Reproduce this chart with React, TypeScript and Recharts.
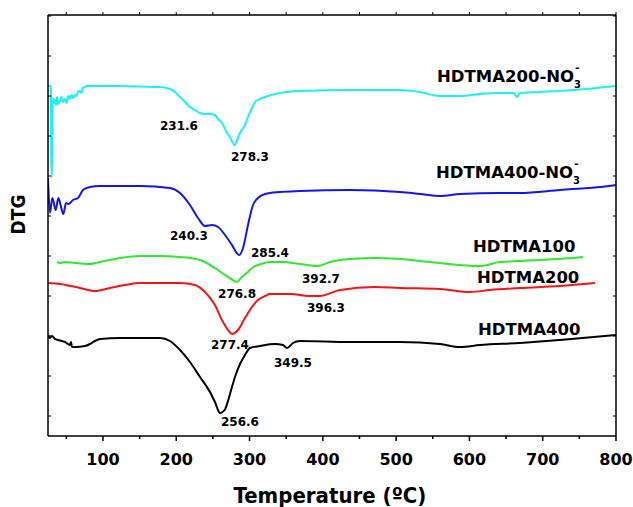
import React from "react";
import { LineChart, Line, XAxis, YAxis, ReferenceDot } from "recharts";

// Temperature (°C), DTG (arbitrary, offset units)
const HDTMA200_NO3: [number, number][] = [
  [25, 35.0], [27.7, 35.0], [29, 34.8], [29.5, 25.9], [30.5, 25.9], [31.5, 33.8],
  [33.2, 33.3], [34.6, 33.6], [36, 33.1], [37.3, 33.9], [39, 33.2], [41.4, 33.5],
  [43, 33.9], [45.5, 33.4], [48.2, 33.7], [50, 33.3], [52.3, 34.0], [55, 33.7],
  [57, 34.1], [59.1, 33.8], [61.8, 34.1], [64, 34.0], [65.9, 34.4], [68.7, 34.5],
  [70.5, 34.3], [72.8, 34.8], [75.5, 34.9], [78.2, 35.0], [82.3, 35.0], [96, 35.0],
  [123, 35.0], [150, 34.95], [177.8, 34.9], [191.5, 34.7], [198.3, 34.4], [205.1, 33.9],
  [211.9, 33.4], [218.7, 32.9], [225.6, 32.6], [232.4, 32.3], [239.2, 32.2], [245, 32.2],
  [252.8, 32.1], [257, 31.7], [262.4, 31.3], [269.2, 30.3], [273.3, 29.9], [279.5, 29.1],
  [284.2, 29.8], [287, 30.3], [293.8, 31.1], [297.9, 31.9], [303.3, 32.8], [307.4, 33.4],
  [311.5, 33.6], [321.1, 33.9], [341.5, 34.3], [368.8, 34.5], [437, 34.6], [505.3, 34.6],
  [532.6, 34.4], [559.8, 34.0], [587.1, 34.0], [614.4, 34.2], [641.7, 34.3], [660, 34.3],
  [664.9, 33.9], [669, 34.3], [696.3, 34.4], [744, 34.6], [800, 35.0],
];

const HDTMA400_NO3: [number, number][] = [
  [25, 25.8], [27.7, 22.3], [30.9, 23.8], [35.5, 22.6], [39.1, 23.8], [42.5, 23.0],
  [45.9, 22.2], [49.6, 23.3], [53, 23.2], [59.1, 23.6], [65.9, 23.8], [72.8, 24.6],
  [82.3, 24.9], [96, 25.0], [150.5, 25.0], [191.5, 24.8], [205.1, 24.3], [218.7, 23.1],
  [229.7, 21.8], [239.2, 21.0], [248.8, 21.1], [257, 20.9], [266.5, 20.1], [276, 19.1],
  [282.5, 18.3], [286, 18.1], [291.1, 18.8], [297.9, 21.1], [304.7, 23.1], [311.5, 23.8],
  [321.1, 24.2], [341.5, 24.4], [368.8, 24.5], [437, 24.6], [505.3, 24.4], [532.6, 24.2],
  [559.8, 24.0], [587.1, 24.2], [641.7, 24.3], [669, 24.3], [723.6, 24.6], [778.2, 24.9],
  [800, 25.1],
];

const HDTMA100: [number, number][] = [
  [37.3, 17.4], [41.4, 17.3], [48.2, 17.4], [61.8, 17.3], [82.3, 17.2], [96, 17.4],
  [123.2, 17.8], [150.5, 18.0], [177.8, 18.0], [205.1, 17.9], [232.4, 17.6], [252.8, 16.8],
  [266.5, 16.1], [277, 15.6], [283, 15.4], [288, 15.8], [297.9, 16.4], [303.3, 16.8],
  [311.5, 17.1], [320, 17.3], [327.9, 17.4], [345.6, 17.4], [368.8, 17.2], [392.7, 17.0],
  [409.8, 17.4], [437, 17.7], [471.2, 17.8], [505.3, 17.7], [546.2, 17.4], [587.1, 17.1],
  [614.4, 17.0], [641.7, 17.4], [669, 17.5], [696.3, 17.6], [719.5, 17.7], [755, 17.9],
];

const HDTMA200: [number, number][] = [
  [25, 15.3], [41.4, 15.2], [68.7, 14.8], [89.1, 14.5], [109.6, 14.8], [130.1, 15.1],
  [150.5, 15.3], [177.8, 15.3], [205.1, 15.3], [225.6, 15.1], [239.2, 14.4], [252.8, 13.1],
  [262.4, 11.6], [270.6, 10.6], [276, 10.2], [284.2, 10.6], [293.8, 11.8], [303.3, 12.9],
  [311.5, 13.6], [321.1, 14.0], [327.9, 14.2], [355.2, 14.2], [382.5, 14.0],
  [396.3, 14.0], [402.9, 14.1], [423.4, 14.6], [471.2, 14.9], [505.3, 14.8], [559.8, 14.7],
  [600.8, 14.4], [628.1, 14.6], [669, 14.8], [723.6, 15.0], [771.3, 15.3],
];

const HDTMA400: [number, number][] = [
  [25, 10.1], [27.7, 9.8], [30.5, 10.0], [34.6, 9.7], [38.6, 9.6], [44, 9.5],
  [48.2, 9.4], [52.3, 9.2], [55, 9.1], [56.4, 9.4], [57.7, 8.9], [61.8, 8.9],
  [75.5, 9.0], [82.3, 9.2], [89.1, 9.5], [96, 9.7], [123.2, 9.8], [177.8, 9.8],
  [191.5, 9.5], [205.1, 8.6], [218.7, 7.4], [232.4, 5.9], [246, 4.4], [252.8, 3.4],
  [259.7, 2.3], [266, 2.6], [271, 3.6], [276, 4.9], [281.5, 6.2], [287, 7.2], [293.8, 8.1],
  [300.6, 8.8], [314.3, 9.0], [334.7, 9.2], [345.6, 9.1], [351.1, 8.8], [359.3, 9.3],
  [368.8, 9.5], [437, 9.4], [505.3, 9.4], [559.8, 9.2], [587.1, 8.9], [614.4, 9.1],
  [669, 9.3], [723.6, 9.6], [800, 10.1],
];

const SERIES_NAMES = ["HDTMA200-NO", "HDTMA400-NO", "HDTMA100", "HDTMA200", "HDTMA400"];
const SERIES_COLORS = ["#19F2F2", "#1414F0", "#2EEA2E", "#F51414", "#000000"];
// label anchors [temperature, DTG] (left edge / baseline of the text)
const SERIES_LABEL_AT: [number, number][] = [
  [555.8, 35.4], [554.4, 25.8], [604.9, 18.4], [610.3, 15.3], [611.7, 10.1],
];
const SERIES_HAS_NO3 = [true, true, false, false, false];

const PEAK_TEXT = ["231.6", "278.3", "240.3", "285.4", "276.8", "392.7", "396.3", "277.4", "349.5", "256.6"];
const PEAK_AT: [number, number][] = [
  [177.8, 30.6], [274.7, 27.5], [191.5, 19.6], [302.0, 17.9], [257.0, 13.8],
  [371.6, 15.3], [378.4, 12.4], [247.4, 8.7], [333.3, 6.9], [261.0, 1.0],
];

const X_TICKS = [50, 100, 150, 200, 250, 300, 350, 400, 450, 500, 550, 600, 650, 700, 750, 800];
const Y_TICKS = [0, 2, 4, 6, 8, 10, 12, 14, 16, 18, 20, 22, 24, 26, 28, 30, 32, 34, 36, 38, 40, 42];

const FONT = "'DejaVu Sans', Verdana, sans-serif";
const COND = "'DejaVu Sans Condensed', 'DejaVu Sans', sans-serif";

const toRows = (arr: [number, number][]) => arr.map(([t, v]) => ({ t, v }));
const ALL = [HDTMA200_NO3, HDTMA400_NO3, HDTMA100, HDTMA200, HDTMA400].map(toRows);

const NoLabel = () => <g />;

const BottomTick = (props: any) => {
  const { x, y, payload } = props;
  const major = payload.value % 100 === 0;
  return (
    <g>
      <line x1={x} x2={x} y1={y} y2={y + (major ? 5 : 3)} stroke="#000" strokeWidth={1.5} />
      {major && (
        <text x={x} y={y + 29} textAnchor="middle" fontFamily={FONT} fontWeight="bold" fontSize={16} fill="#000">
          {payload.value}
        </text>
      )}
    </g>
  );
};

export default function App() {
  return (
    <div style={{ position: "absolute", left: 0, top: 0, width: 633, height: 507, background: "#fff" }}>
      <LineChart width={633} height={507} margin={{ top: 10, right: 12, bottom: 41, left: 38 }}>
        <XAxis
          xAxisId="b"
          type="number"
          dataKey="t"
          domain={[25, 800]}
          allowDataOverflow
          ticks={X_TICKS}
          orientation="bottom"
          height={30}
          tickLine={false}
          tickSize={0}
          tickMargin={0}
          tick={BottomTick}
          axisLine={{ stroke: "#000", strokeWidth: 1.5 }}
          label={{
            content: (p: any) => {
              const vb = p.viewBox;
              return (
                <text
                  x={vb.x + vb.width / 2 - 2}
                  y={vb.y + 67}
                  textAnchor="middle"
                  fontFamily={COND}
                  fontStretch="condensed"
                  fontWeight="bold"
                  fontSize={22}
                  fill="#000"
                >
                  Temperature (ºC)
                </text>
              );
            },
          }}
        />
        <XAxis
          xAxisId="t"
          type="number"
          dataKey="t"
          domain={[25, 800]}
          allowDataOverflow
          ticks={X_TICKS}
          orientation="top"
          height={5}
          tick={NoLabel}
          tickSize={3}
          tickLine={{ stroke: "#000", strokeWidth: 1 }}
          axisLine={{ stroke: "#000", strokeWidth: 1.5 }}
        />
        <YAxis
          yAxisId="l"
          type="number"
          domain={[0, 42.1]}
          allowDataOverflow
          ticks={Y_TICKS}
          orientation="left"
          width={10}
          tick={NoLabel}
          tickSize={-3}
          tickLine={{ stroke: "#000", strokeWidth: 1 }}
          axisLine={{ stroke: "#000", strokeWidth: 1.5 }}
          label={{
            content: (p: any) => {
              const vb = p.viewBox;
              const cx = 25;
              const cy = vb.y + vb.height / 2 - 11;
              return (
                <text
                  x={cx}
                  y={cy}
                  transform={`rotate(-90 ${cx} ${cy})`}
                  textAnchor="middle"
                  fontFamily={COND}
                  fontStretch="condensed"
                  fontWeight="bold"
                  fontSize={19}
                  fill="#000"
                >
                  DTG
                </text>
              );
            },
          }}
        />
        <YAxis
          yAxisId="r"
          type="number"
          domain={[0, 42.1]}
          allowDataOverflow
          ticks={Y_TICKS}
          orientation="right"
          width={5}
          tick={NoLabel}
          tickSize={-3}
          tickLine={{ stroke: "#000", strokeWidth: 1 }}
          axisLine={{ stroke: "#000", strokeWidth: 1.5 }}
        />
        {ALL.map((rows, i) => (
          <Line
            key={SERIES_NAMES[i]}
            xAxisId="b"
            yAxisId="l"
            data={rows}
            dataKey="v"
            type="monotone"
            stroke={SERIES_COLORS[i]}
            strokeWidth={2}
            dot={false}
            isAnimationActive={false}
          />
        ))}
        {SERIES_NAMES.map((name, i) => (
          <ReferenceDot
            key={"s" + i}
            xAxisId="b"
            yAxisId="l"
            x={SERIES_LABEL_AT[i][0]}
            y={SERIES_LABEL_AT[i][1]}
            r={0}
            fill="none"
            stroke="none"
            label={{
              content: (p: any) => {
                const vb = p.viewBox;
                return (
                  <text x={vb.x} y={vb.y} fontFamily={FONT} fontWeight="bold" fontSize={16.5} fill="#000">
                    {name}
                    {SERIES_HAS_NO3[i] && (
                      <>
                        <tspan dy={6} fontSize={10}>3</tspan>
                        <tspan dx={-6} dy={-17} fontSize={11}>-</tspan>
                      </>
                    )}
                  </text>
                );
              },
            }}
          />
        ))}
        {PEAK_TEXT.map((txt, i) => (
          <ReferenceDot
            key={"p" + i}
            xAxisId="b"
            yAxisId="l"
            x={PEAK_AT[i][0]}
            y={PEAK_AT[i][1]}
            r={0}
            fill="none"
            stroke="none"
            label={{
              content: (p: any) => {
                const vb = p.viewBox;
                return (
                  <text x={vb.x} y={vb.y} fontFamily={FONT} fontWeight="bold" fontSize={12} fill="#000">
                    {txt}
                  </text>
                );
              },
            }}
          />
        ))}
      </LineChart>
    </div>
  );
}
